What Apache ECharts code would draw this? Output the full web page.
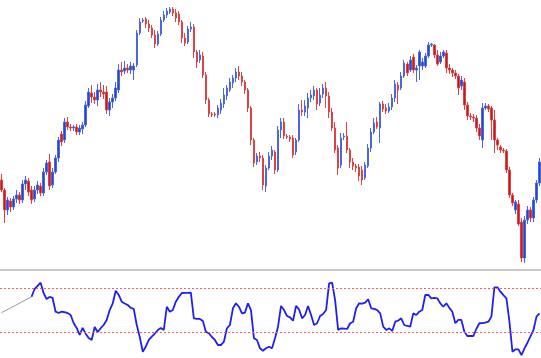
<!DOCTYPE html>
<html>
<head>
<meta charset="utf-8">
<style>
html,body{margin:0;padding:0;background:#fff;}
#chart{width:541px;height:358px;}
</style>
<script src="https://cdn.jsdelivr.net/npm/echarts@6/dist/echarts.min.js"></script>
</head>
<body>
<div id="chart"></div>
<script>
// ---- price candles (open, close, low, high) ----
const opens = [90,80,60,69,63,71,75,70,86,89,80,71,80,84,77,98,108,85,98,112,136,130,148,143,142,143,138,141,145,164,177,173,170,180,178,178,160,168,172,180,200,199,202,200,200,205,237,249,251,246,242,235,226,236,250,255,258,261,257,256,248,232,228,241,243,218,210,214,195,170,156,156,155,160,166,174,180,187,192,198,194,188,180,162,130,108,114,112,84,102,114,118,100,140,148,134,133,132,118,130,160,158,162,172,174,180,167,176,182,174,158,142,122,105,133,134,120,108,104,103,100,92,104,122,138,148,142,166,162,159,163,172,185,182,194,206,200,213,200,204,204,204,214,225,225,215,208,214,217,202,200,197,194,184,188,165,154,153,152,142,130,162,164,162,150,130,123,120,119,100,75,60,66,48,12,50,60,52,70,87];
const closes = [80,60,70,63,71,75,70,86,90,78,70,80,85,77,98,107,84,98,112,130,128,148,143,142,143,138,142,145,165,178,173,170,180,178,176,160,168,172,182,200,198,202,200,204,204,237,248,250,246,242,235,226,236,250,255,259,261,257,252,248,232,227,241,243,218,208,215,195,170,156,155,155,162,167,175,182,188,192,198,194,188,180,162,130,107,114,112,85,102,114,120,100,140,148,134,133,131,115,130,160,158,164,172,175,180,166,175,182,174,158,142,120,102,132,134,120,108,104,102,94,90,105,122,138,147,143,166,161,159,163,172,186,180,194,207,197,210,200,202,218,208,214,225,226,215,206,214,218,202,200,197,194,182,190,165,154,153,152,142,134,162,164,161,150,130,125,120,119,100,75,67,68,46,12,50,60,52,70,87,108];
const lows = [78,47,55,58,60,67,66,67,80,74,66,68,76,74,74,95,80,82,96,108,124,127,140,139,139,135,135,136,143,162,167,166,164,173,171,156,154,162,169,177,194,196,197,196,190,203,235,247,242,238,232,222,224,234,248,252,256,254,248,245,227,224,226,238,212,202,207,192,166,153,153,153,152,156,162,170,178,182,188,190,184,176,158,125,103,105,108,80,78,100,110,96,98,132,131,131,128,112,115,128,154,154,152,168,170,160,164,172,162,152,139,117,95,102,130,117,102,100,98,89,85,90,102,118,136,141,127,158,156,157,160,168,166,180,192,194,198,197,188,190,200,202,212,223,212,204,206,212,197,196,193,191,175,180,160,150,150,148,138,130,122,160,158,130,117,120,117,117,97,72,64,56,44,8,7,46,48,48,67,84];
const highs = [96,82,73,72,74,80,78,90,94,92,84,84,89,87,102,110,116,102,115,133,139,152,153,146,145,146,145,148,169,182,185,178,186,188,185,184,172,176,188,206,208,209,206,208,207,240,252,252,253,250,245,240,239,253,259,262,263,263,261,259,250,237,244,248,246,220,220,218,198,172,158,158,165,171,182,185,192,195,202,204,198,190,182,164,132,117,118,115,105,118,124,120,144,152,152,136,135,135,132,166,170,170,177,180,184,182,182,186,188,178,162,148,125,137,137,148,122,112,106,106,104,108,126,142,152,153,168,169,166,167,176,190,188,198,210,208,214,216,205,220,212,217,228,227,226,220,218,220,220,206,202,200,196,194,192,168,157,156,155,146,167,167,166,164,160,132,125,122,121,103,77,70,70,52,54,64,63,73,90,112];

// ---- oscillator (lower panel) ----
const oscillator = [null,null,null,null,null,null,null,null,null,null,
62.1,69.1,71.9,74.9,65.5,60.0,61.9,61.0,48.5,47.3,48.5,48.0,47.3,45.5,38.2,33.7,27.3,33.7,28.5,24.6,
22.8,34.6,30.0,33.5,36.4,41.0,50.0,56.0,67.6,63.7,57.6,56.0,54.6,51.9,51.0,36.4,25.5,12.1,16.7,22.8,
25.8,28.5,31.9,33.7,31.9,53.0,48.5,50.0,57.6,62.0,65.5,65.6,65.7,65.8,42.5,42.0,41.9,40.0,30.3,28.9,
25.5,22.8,18.2,18.2,21.2,33.4,36.4,51.6,56.1,53.0,47.0,47.6,56.1,50.0,24.3,22.8,15.2,13.0,15.2,16.7,
15.2,24.3,34.9,53.7,50.0,44.6,43.4,40.3,53.7,50.7,42.5,45.5,53.7,45.5,36.4,38.0,44.6,46.4,50.0,74.3,
74.9,59.1,31.9,33.4,33.2,32.8,38.0,39.4,51.6,56.1,55.8,56.7,59.8,51.6,51.0,50.0,47.0,34.9,31.9,33.4,
31.0,39.4,40.5,42.5,36.4,35.5,34.9,47.0,45.5,48.5,50.0,63.7,63.7,60.7,61.0,60.7,56.1,53.0,56.1,52.0,
48.5,38.0,41.0,41.0,30.3,26.4,26.4,26.4,33.0,38.0,38.2,38.5,39.4,44.0,70.7,70.7,66.7,63.5,60.7,39.4,
12.1,14.3,14.3,9.1,15.2,20.3,26.0,31.9,44.0,47.0];
const levels = [70, 30];
const trendStartIndex = 0, trendStartValue = 47.6;
const trendEndIndex = 10, trendEndValue = 62.1;

const categories = opens.map((_, i) => 'B' + (i + 1));
const candleData = opens.map((o, i) => [o, closes[i], lows[i], highs[i]]);

const chart = echarts.init(document.getElementById('chart'), null, {renderer: 'canvas'});
chart.setOption({
  animation: false,
  backgroundColor: '#ffffff',
  grid: [
    {left: 0, right: 0, top: 0, height: 270},
    {left: 0, right: 0, top: 271, height: 87}
  ],
  xAxis: [
    {type: 'category', gridIndex: 0, data: categories, boundaryGap: true,
     axisLine: {show: true, lineStyle: {color: '#c8c8c8', width: 2}},
     axisTick: {show: false}, axisLabel: {show: false}, splitLine: {show: false}},
    {type: 'category', gridIndex: 1, data: categories, boundaryGap: true,
     axisLine: {show: false}, axisTick: {show: false}, axisLabel: {show: false}, splitLine: {show: false}}
  ],
  yAxis: [
    {type: 'value', gridIndex: 0, min: 0, max: 270, show: false, splitLine: {show: false}},
    {type: 'value', gridIndex: 1, min: 6.4, max: 85.5, show: false, splitLine: {show: false}}
  ],
  series: [
    {
      type: 'candlestick', xAxisIndex: 0, yAxisIndex: 0, data: candleData,
      barWidth: 2,
      itemStyle: {color: '#2446d8', color0: '#d41414', borderColor: '#4a66e0', borderColor0: '#dc4444', borderWidth: 1}
    },
    {
      type: 'line', xAxisIndex: 1, yAxisIndex: 1, data: oscillator, z: 3,
      showSymbol: false, smooth: false,
      lineStyle: {color: '#1f1fef', width: 1.8},
      markLine: {
        silent: true, symbol: 'none', label: {show: false},
        lineStyle: {color: '#ff5a5a', type: [2, 2], width: 1},
        data: levels.map(v => ({yAxis: v}))
      }
    },
    {
      type: 'line', xAxisIndex: 1, yAxisIndex: 1, z: 2,
      data: [
        {value: [categories[trendStartIndex], trendStartValue], symbol: 'rect', symbolSize: [2, 9]},
        {value: [categories[trendEndIndex], trendEndValue], symbol: 'none'}
      ],
      showSymbol: true,
      itemStyle: {color: '#9a9a9a'},
      lineStyle: {color: '#9a9a9a', width: 1}
    }
  ]
});
</script>
</body>
</html>
